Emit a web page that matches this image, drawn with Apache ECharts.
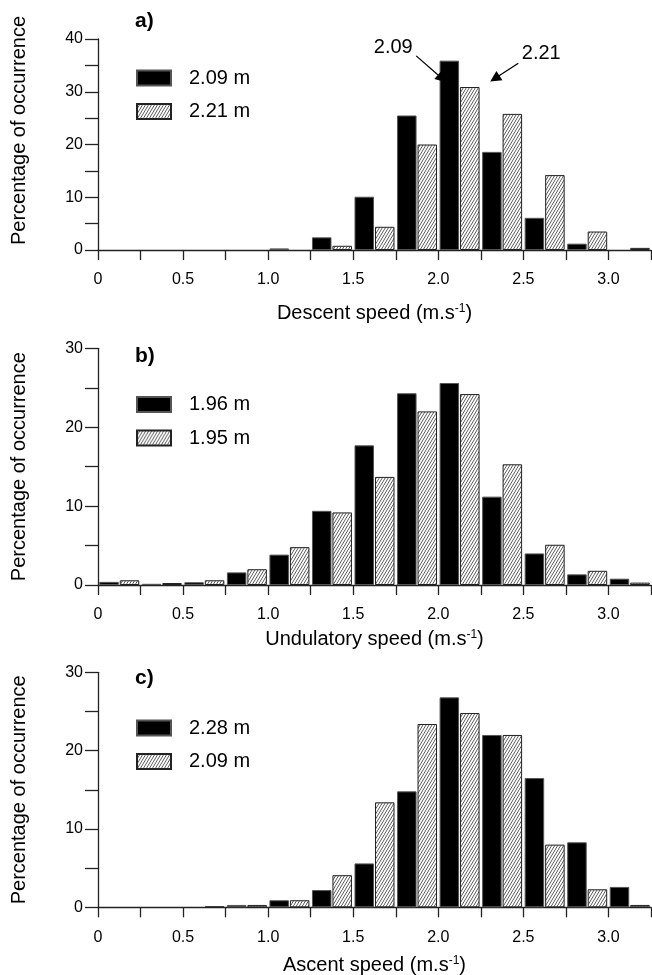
<!DOCTYPE html>
<html>
<head>
<meta charset="utf-8">
<script src="https://cdn.jsdelivr.net/npm/echarts@6/dist/echarts.min.js"></script>
<style>
  html, body { margin: 0; padding: 0; background: #fff; }
  .panel { position: absolute; left: 0; width: 652px; }
</style>
</head>
<body>
<div id="chart-a" class="panel" style="top:0;height:330px"></div>
<div id="chart-b" class="panel" style="top:325px;height:325px"></div>
<div id="chart-c" class="panel" style="top:645px;height:330px"></div>
<script>
  // speed classes (lower bound of each 0.25 m/s bin)
  var binStarts = [0, 0.25, 0.5, 0.75, 1.0, 1.25, 1.5, 1.75, 2.0, 2.25, 2.5, 2.75, 3.0];
  var binWidth = 0.25;

  // a) descent
  var descentNames = ['2.09 m', '2.21 m'];
  var descentBlack = [0, 0, 0, 0, 0.3, 2.4, 10.1, 25.5, 35.9, 18.6, 6.1, 1.2, 0];
  var descentHatch = [0, 0, 0, 0, 0, 0.8, 4.4, 20.0, 30.9, 25.8, 14.2, 3.5, 0.4];

  // b) undulatory
  var undulNames = ['1.96 m', '1.95 m'];
  var undulBlack = [0.4, 0.15, 0.35, 1.6, 3.85, 9.4, 17.7, 24.3, 25.6, 11.2, 4.0, 1.35, 0.8];
  var undulHatch = [0.6, 0.25, 0.6, 2.0, 4.8, 9.2, 13.7, 22.0, 24.2, 15.3, 5.1, 1.8, 0.3];

  // c) ascent
  var ascentNames = ['2.28 m', '2.09 m'];
  var ascentBlack = [0, 0, 0, 0.3, 0.9, 2.2, 5.6, 14.8, 26.8, 22.0, 16.5, 8.3, 2.6];
  var ascentHatch = [0, 0, 0.1, 0.3, 0.9, 4.1, 13.4, 23.4, 24.8, 22.0, 8.0, 2.3, 0.3];

  // arrows of panel a (data coords: speed, %)
  var arrowTexts = ['2.09', '2.21'];
  var arrowTextAt = [[1.675, 38.4], [2.545, 37.2]];
  var arrowFrom = [[1.81, 36.8], [2.41, 35.4]];
  var arrowTo = [[1.962, 32.5], [2.272, 32.5]];

  var font = 'Liberation Sans, Arial, sans-serif';
  var axisColor = '#222';

  // hatch fill ////
  function makeHatch() {
    var w = 3, h = 5;
    var c = document.createElement('canvas');
    c.width = w;
    c.height = h;
    var ctx = c.getContext('2d');
    ctx.fillStyle = '#fff';
    ctx.fillRect(0, 0, w, h);
    ctx.strokeStyle = '#333';
    ctx.lineWidth = 0.8;
    ctx.beginPath();
    ctx.moveTo(0, h); ctx.lineTo(w, 0);
    ctx.moveTo(-w, h); ctx.lineTo(0, 0);
    ctx.moveTo(w, h); ctx.lineTo(2 * w, 0);
    ctx.stroke();
    return c;
  }
  var hatch = { image: makeHatch(), repeat: 'repeat' };

  // empty classes are not drawn
  function toPoints(values) {
    return values.map(function (v, i) {
      return [binStarts[i] + binWidth / 2, v > 0 ? v : null];
    });
  }

  function speedLabel(v) {
    var q = Math.round(v * 4);
    if (q % 2 !== 0) return '';
    return q === 0 ? '0' : (q / 4).toFixed(1);
  }

  function drawPanel(domId, cfg) {
    var chart = echarts.init(document.getElementById(domId));
    var hatchSeries = {
      name: cfg.names[1],
      type: 'bar',
      z: 3,
      data: toPoints(cfg.hatch),
      barWidth: 19.5,
      itemStyle: { color: hatch, borderColor: '#222', borderWidth: 1 }
    };
    if (cfg.arrows) {
      hatchSeries.markLine = {
        silent: true,
        symbol: ['none', 'triangle'],
        symbolSize: 11,
        label: { show: false },
        lineStyle: { type: 'solid', color: '#000', width: 1.3 },
        data: arrowFrom.map(function (p, i) {
          return [{ coord: p }, { coord: arrowTo[i] }];
        })
      };
      hatchSeries.markPoint = {
        silent: true,
        symbolSize: 0,
        label: { show: true, position: 'inside', fontSize: 20, color: '#000', fontFamily: font },
        data: arrowTextAt.map(function (p, i) {
          return { coord: p, value: arrowTexts[i], label: { formatter: arrowTexts[i] } };
        })
      };
    }

    var option = {
      animation: false,
      textStyle: { fontFamily: font, color: '#000' },
      title: {
        text: cfg.tag,
        left: 135,
        top: cfg.tagTop,
        padding: 0,
        textStyle: { fontSize: 21, fontWeight: 'bold', color: '#000', fontFamily: font }
      },
      legend: {
        orient: 'vertical',
        left: 136,
        top: cfg.legendTop,
        padding: 0,
        icon: 'rect',
        itemWidth: 34,
        itemHeight: 15,
        itemGap: 13.5,
        textStyle: { fontSize: 20, color: '#000', lineHeight: 20, padding: [0, 0, 0, 13] },
        data: cfg.names
      },
      grid: {
        left: 98, right: 1, top: cfg.gridTop, bottom: cfg.gridBottom,
        containLabel: false, outerBoundsMode: 'none'
      },
      xAxis: {
        type: 'value',
        min: 0,
        max: 3.25,
        interval: 0.25,
        name: cfg.xName,
        nameLocation: 'middle',
        nameGap: cfg.xNameGap,
        nameTextStyle: {
          fontSize: 20,
          color: '#000',
          rich: { sup: { fontSize: 12, verticalAlign: 'top', padding: [0, 0, 8, 0] } }
        },
        axisLine: { onZero: false, lineStyle: { color: axisColor, width: 1.3 } },
        axisTick: { show: true, length: 10, lineStyle: { color: axisColor, width: 1.3 } },
        axisLabel: { fontSize: 16, color: '#000', margin: 22, formatter: speedLabel },
        splitLine: { show: false }
      },
      yAxis: {
        type: 'value',
        min: 0,
        max: cfg.yMax,
        interval: 5,
        name: 'Percentage of occurrence',
        nameLocation: 'middle',
        nameRotate: 90,
        nameGap: 69,
        nameTextStyle: { fontSize: 20, color: '#000', padding: cfg.yNamePad },
        axisLine: { show: true, lineStyle: { color: axisColor, width: 1.3 } },
        axisTick: { show: true, length: 13, lineStyle: { color: axisColor, width: 1.3 } },
        axisLabel: {
          fontSize: 16, color: '#000', margin: 15,
          formatter: function (v) { return v % 10 === 0 ? String(v) : ''; }
        },
        splitLine: { show: false }
      },
      series: [
        {
          name: cfg.names[0],
          type: 'bar',
          data: toPoints(cfg.black),
          barWidth: 19.5,
          barGap: '5%',
          itemStyle: { color: '#000', borderColor: '#555', borderWidth: 1 }
        },
        hatchSeries
      ]
    };
    chart.setOption(option);
  }

  drawPanel('chart-a', {
    tag: 'a)', tagTop: 11, legendTop: 68,
    gridTop: 39, gridBottom: 80, yMax: 40, yNamePad: [0, 0, 0, 28],
    xName: 'Descent speed (m.s{sup|-1})', xNameGap: 53,
    names: descentNames, black: descentBlack, hatch: descentHatch, arrows: true
  });
  drawPanel('chart-b', {
    tag: 'b)', tagTop: 21, legendTop: 69.5,
    gridTop: 23.3, gridBottom: 65, yMax: 30, yNamePad: [0, 0, 0, 0],
    xName: 'Undulatory speed (m.s{sup|-1})', xNameGap: 44,
    names: undulNames, black: undulBlack, hatch: undulHatch
  });
  drawPanel('chart-c', {
    tag: 'c)', tagTop: 23, legendTop: 73,
    gridTop: 27.3, gridBottom: 67.7, yMax: 30, yNamePad: [0, 0, 0, 0],
    xName: 'Ascent speed (m.s{sup|-1})', xNameGap: 47.7,
    names: ascentNames, black: ascentBlack, hatch: ascentHatch
  });
</script>
</body>
</html>
